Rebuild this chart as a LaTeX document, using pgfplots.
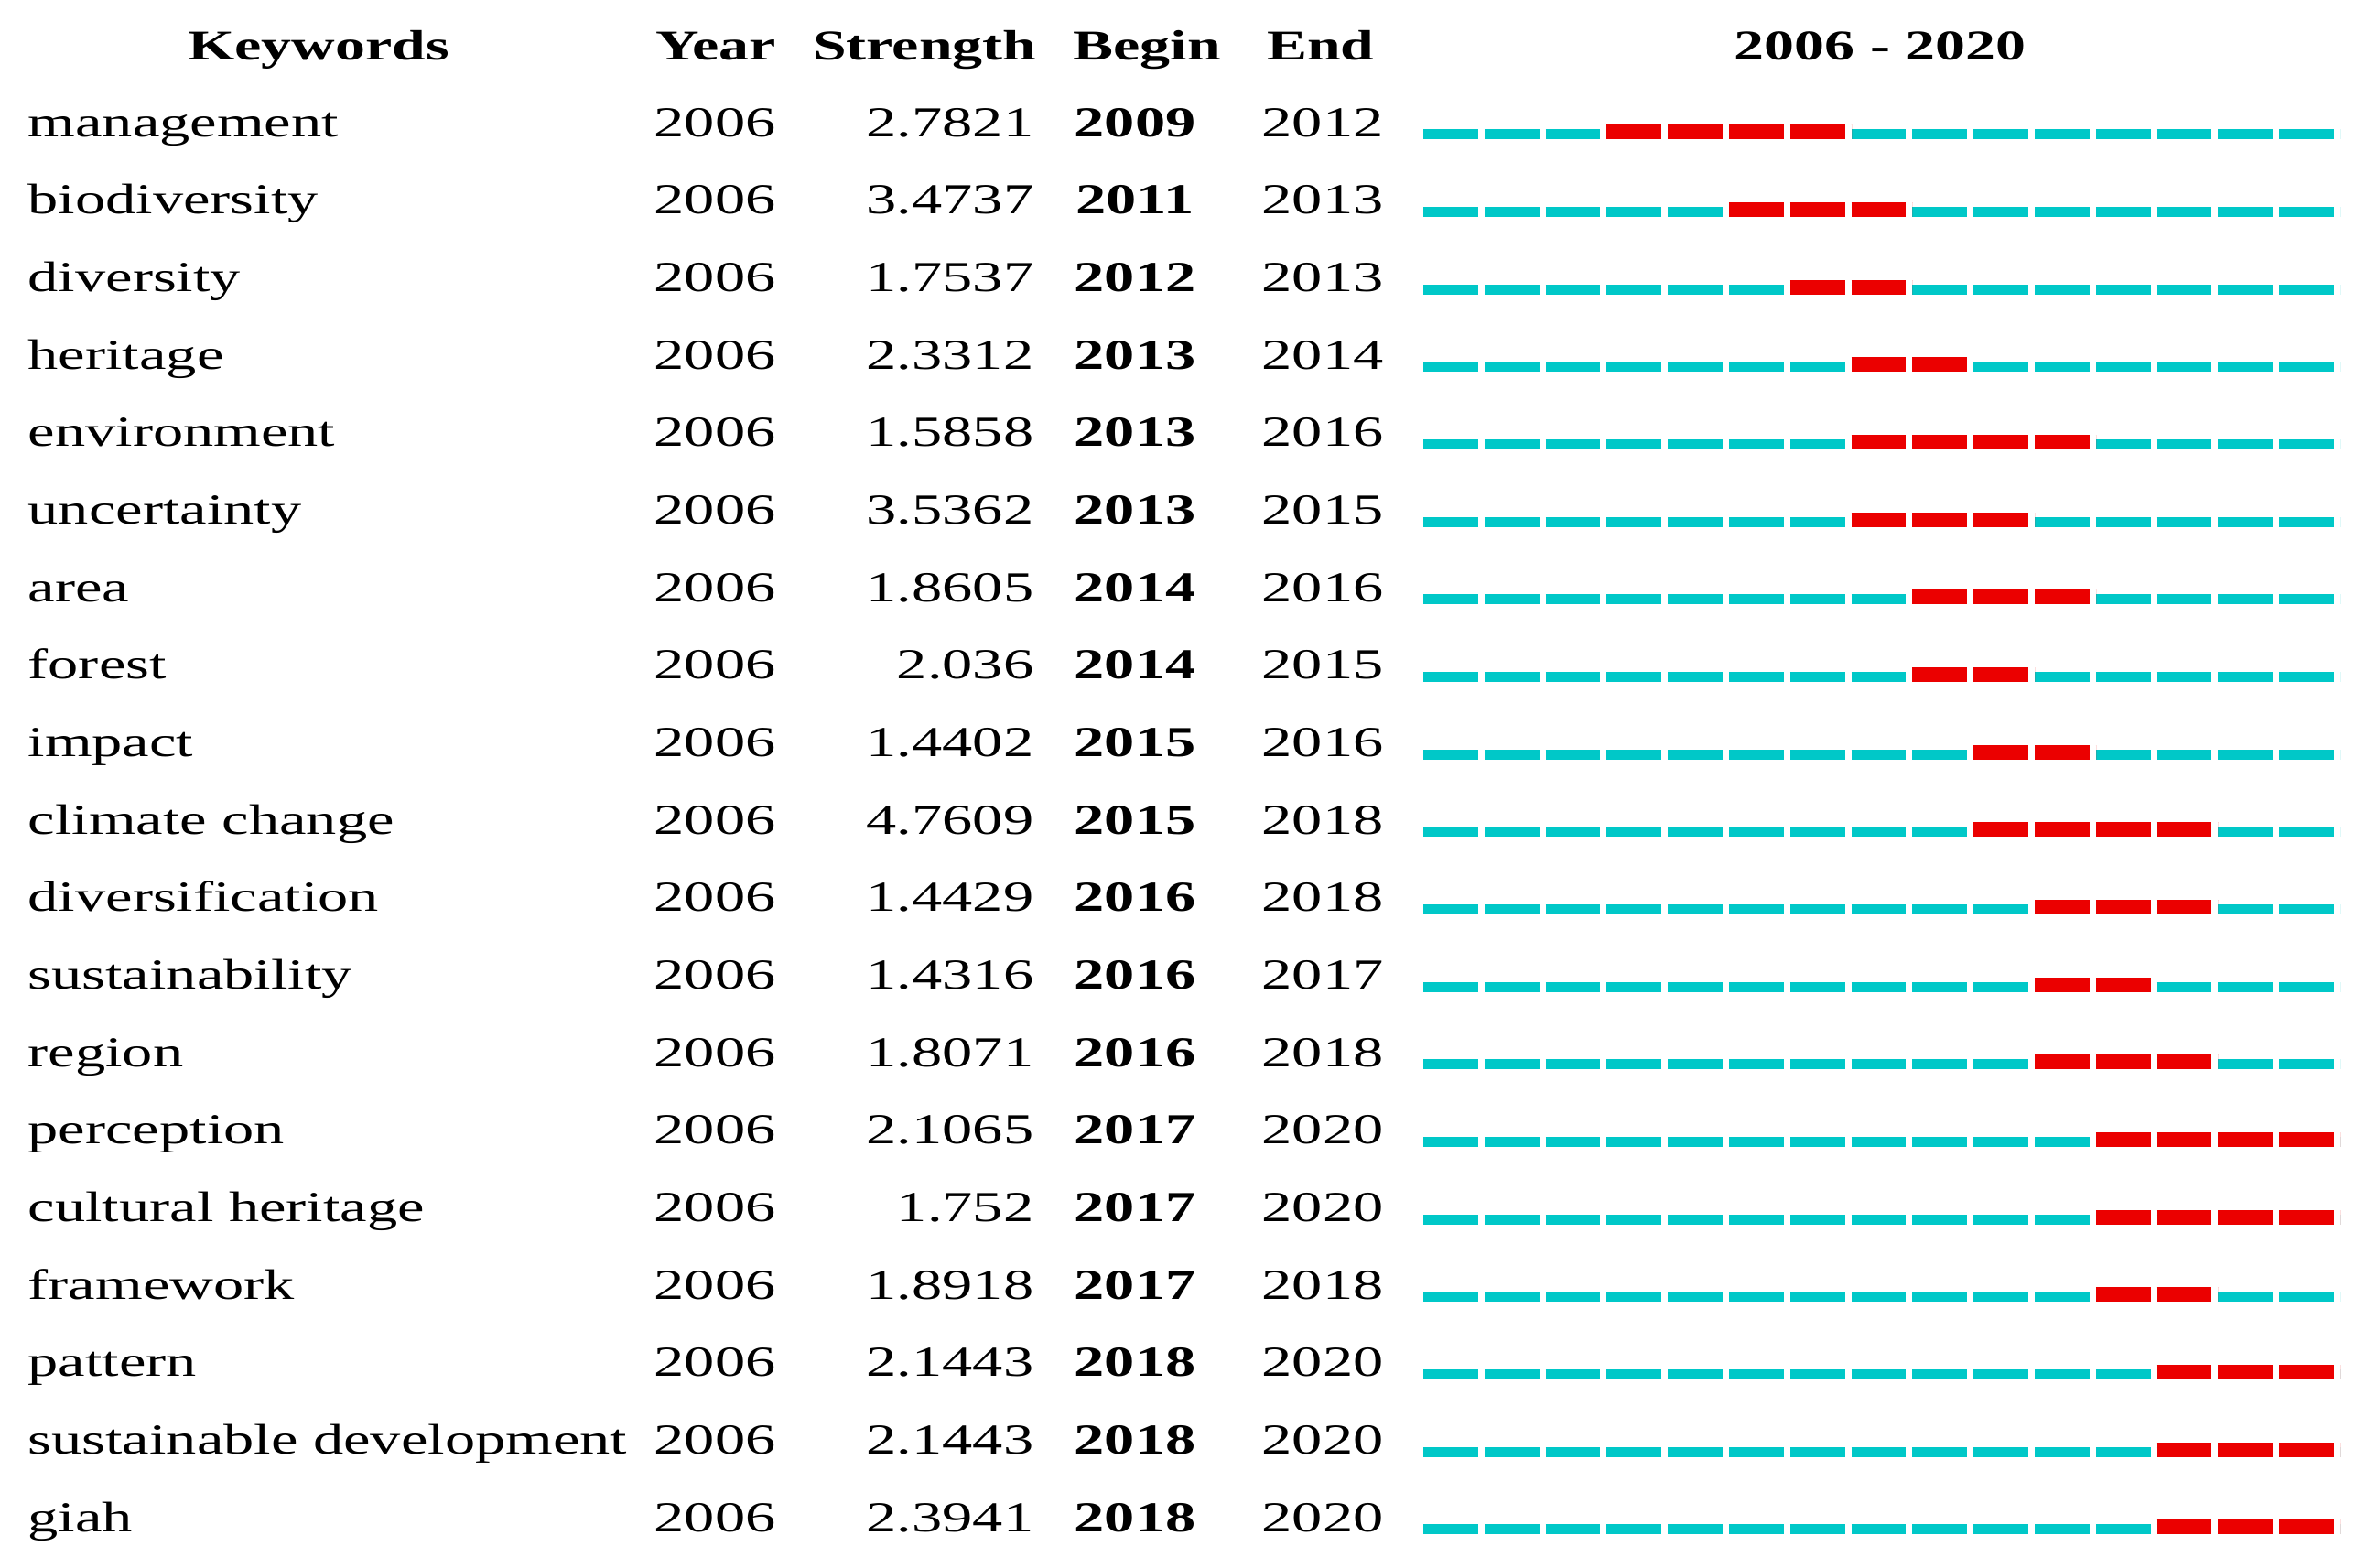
\documentclass[border=0pt]{standalone}
\usepackage{pgfplots}
\usepackage{pgfplotstable}
\pgfplotsset{compat=1.18}
\usepackage{fontspec}
\setmainfont{Liberation Serif}[FakeStretch=1.42]
\definecolor{cy}{RGB}{0,200,200}
\definecolor{rd}{RGB}{235,0,0}

\pgfplotstableread[col sep=comma]{
kw,yr,str,b,e
management,2006,2.7821,2009,2012
biodiversity,2006,3.4737,2011,2013
diversity,2006,1.7537,2012,2013
heritage,2006,2.3312,2013,2014
environment,2006,1.5858,2013,2016
uncertainty,2006,3.5362,2013,2015
area,2006,1.8605,2014,2016
forest,2006,2.036,2014,2015
impact,2006,1.4402,2015,2016
climate change,2006,4.7609,2015,2018
diversification,2006,1.4429,2016,2018
sustainability,2006,1.4316,2016,2017
region,2006,1.8071,2016,2018
perception,2006,2.1065,2017,2020
cultural heritage,2006,1.752,2017,2020
framework,2006,1.8918,2017,2018
pattern,2006,2.1443,2018,2020
sustainable development,2006,2.1443,2018,2020
giah,2006,2.3941,2018,2020
}\bursts

\newcommand{\rowfont}{\fontsize{13.3}{15}\selectfont}
\newcommand{\headfont}{\fontsize{13.2}{16}\selectfont\bfseries}

\begin{document}
\begin{tikzpicture}
\begin{axis}[
  scale only axis, width=258.6mm, height=171.3mm,
  xmin=0, xmax=2586, ymin=0, ymax=1713, y dir=reverse,
  hide axis, clip=false,
  txt/.style={draw=none, mark=none, point meta=explicit symbolic,
    nodes near coords={\pgfplotspointmeta},
    every node near coord/.append style={inner sep=0pt, text=black, font=\rowfont}},
]
\path (axis cs:0,0) rectangle (axis cs:2586,1713);
% timeline (cyan, every year 2006-2020)
\addplot[cy, mark=none, line width=1.1mm, dash pattern=on 5.98mm off 0.70mm,
  quiver={u=15*66.8, v=0, every arrow/.style={-}}]
  table[x expr=1555, y expr={147+\coordindex*84.65}] {\bursts};
% bursts (red, begin..end)
\addplot[rd, mark=none, line width=1.6mm, dash pattern=on 5.98mm off 0.70mm,
  quiver={u={(\thisrow{e}-\thisrow{b}+1)*66.8}, v=0, every arrow/.style={-}}]
  table[x expr={1555+(\thisrow{b}-2006)*66.8}, y expr={144.5+\coordindex*84.65}] {\bursts};
% text columns
\addplot[txt, every node near coord/.append style={anchor=base west}]
  table[x expr=30, y expr={149.3+\coordindex*84.65}, meta=kw] {\bursts};
\addplot[txt, every node near coord/.append style={anchor=base}]
  table[x expr=781, y expr={149.3+\coordindex*84.65}, meta=yr] {\bursts};
\addplot[txt, every node near coord/.append style={anchor=base east}]
  table[x expr=1130, y expr={149.3+\coordindex*84.65}, meta=str] {\bursts};
\addplot[txt, every node near coord/.append style={anchor=base, font=\rowfont\bfseries}]
  table[x expr=1240, y expr={149.3+\coordindex*84.65}, meta=b] {\bursts};
\addplot[txt, every node near coord/.append style={anchor=base}]
  table[x expr=1445, y expr={149.3+\coordindex*84.65}, meta=e] {\bursts};
% header
\node[anchor=base, inner sep=0pt, font=\headfont] at (axis cs:348,66) {Keywords};
\node[anchor=base, inner sep=0pt, font=\headfont] at (axis cs:782,66) {Year};
\node[anchor=base east, inner sep=0pt, font=\headfont] at (axis cs:1133,66) {Strength};
\node[anchor=base west, inner sep=0pt, font=\headfont] at (axis cs:1172,66) {Begin};
\node[anchor=base, inner sep=0pt, font=\headfont] at (axis cs:1443,66) {End};
\node[anchor=base, inner sep=0pt, font=\headfont] at (axis cs:2054,66) {2006 - 2020};
\end{axis}
\end{tikzpicture}
\end{document}
